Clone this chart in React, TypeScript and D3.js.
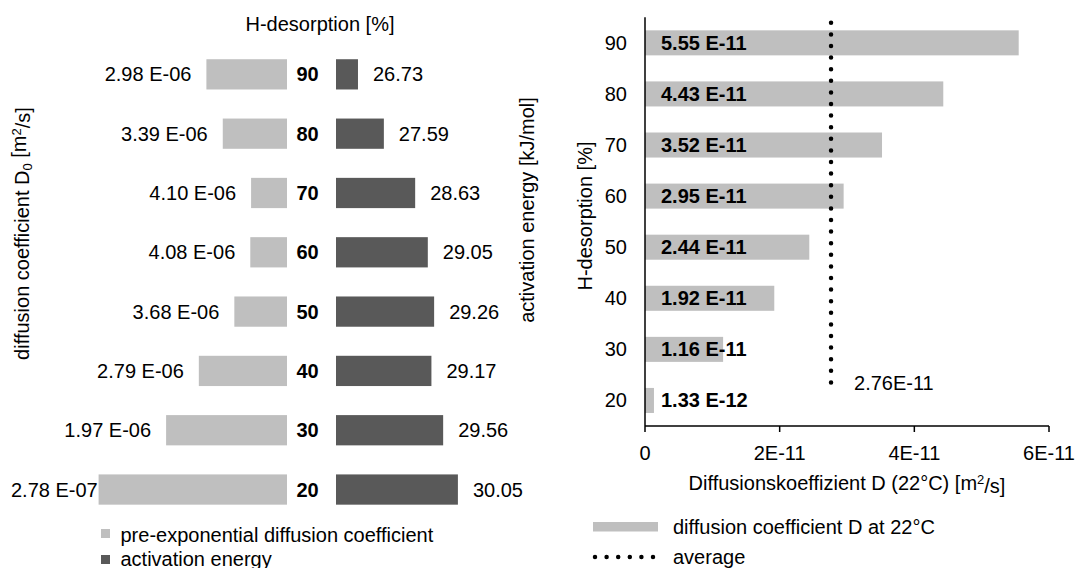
import React from "react";
import * as d3 from "d3";

const categories = ["90", "80", "70", "60", "50", "40", "30", "20"];
const preExpD0 = [2.98e-6, 3.39e-6, 4.1e-6, 4.08e-6, 3.68e-6, 2.79e-6, 1.97e-6, 2.78e-7];
const activationEnergy = [26.73, 27.59, 28.63, 29.05, 29.26, 29.17, 29.56, 30.05];
const diffusionD22 = [5.55e-11, 4.43e-11, 3.52e-11, 2.95e-11, 2.44e-11, 1.92e-11, 1.16e-11, 1.33e-12];
const xTicksRight = [0, 2e-11, 4e-11, 6e-11];

const FONT = "'Liberation Sans', Arial, sans-serif";
const FS = 20;
const LIGHT = "#BFBFBF";
const DARK = "#595959";

function fmtExp(v: number, space = true) {
  const [m, e] = v.toExponential(2).split("e");
  const n = parseInt(e, 10);
  const es = (n < 0 ? "-" : "+") + String(Math.abs(n)).padStart(2, "0");
  return m + (space ? " " : "") + "E" + (n < 0 ? es : es.slice(1));
}
function fmtTick(v: number) {
  if (v === 0) return "0";
  const [m, e] = v.toExponential(0).split("e");
  return m + "E" + e;
}

let ctx: CanvasRenderingContext2D | null = null;
function textWidth(s: string, weight = "normal") {
  if (!ctx) ctx = document.createElement("canvas").getContext("2d");
  if (!ctx) return s.length * FS * 0.5;
  ctx.font = `${weight} ${FS}px 'Liberation Sans', Arial, sans-serif`;
  return ctx.measureText(s).width;
}

export default function App() {
  // Left chart scales
  const yL = d3.scaleBand<string>().domain(categories).range([44.7, 519.2]).paddingInner(0.49).paddingOuter(0.245);
  const xD0 = d3.scaleLinear().domain([0, 5e-6]).range([87.5, 287]);
  const xE = d3.scaleLinear().domain([26, 31]).range([336, 486.5]);

  // Right chart scales
  const yR = d3.scaleBand<string>().domain(categories).range([17.3, 426]).paddingInner(0.51).paddingOuter(0.255);
  const xR = d3.scaleLinear().domain([0, 6e-11]).range([645, 1049]);
  const avg = d3.mean(diffusionD22) as number;

  const bwL = yL.bandwidth();
  const bwR = yR.bandwidth();
  const avgTop = (yR(categories[0]) as number) - bwR * 0.3;
  const avgBot = (yR(categories[categories.length - 1]) as number) - bwR * 0.18;

  return (
    <svg width={1078} height={568} style={{ position: "absolute", left: 0, top: 0, background: "#fff" }} fontFamily={FONT} fontSize={FS}>
      <rect width={1078} height={568} fill="#fff" />
      {/* ---------- LEFT CHART ---------- */}
      <text x={320} y={24} dy="0.35em" textAnchor="middle">H-desorption [%]</text>
      {categories.map((c, i) => {
        const y = yL(c) as number;
        const cy = y + bwL / 2;
        const v = preExpD0[i];
        const x0 = xD0(v);
        const lbl = fmtExp(v);
        const w = textWidth(lbl);
        const endX = Math.max(x0 - 15, 11 + w);
        const e = activationEnergy[i];
        return (
          <g key={c}>
            <rect x={x0} y={y} width={xD0(5e-6) - x0} height={bwL} fill={LIGHT} />
            <rect x={xE(26)} y={y} width={xE(e) - xE(26)} height={bwL} fill={DARK} />
            <text x={endX} y={cy} dy="0.35em" textAnchor="end">{lbl}</text>
            <text x={307.5} y={cy} dy="0.35em" textAnchor="middle" fontWeight="bold">{c}</text>
            <text x={xE(e) + 15} y={cy} dy="0.35em">{e.toFixed(2)}</text>
          </g>
        );
      })}
      <text transform="translate(21.5,233.5) rotate(-90)" dy="0.35em" textAnchor="middle">
        diffusion coefficient D<tspan fontSize={13} dy="0.3em">0</tspan><tspan dy="-0.3em"> [m</tspan><tspan fontSize={13} dy="-0.45em">2</tspan><tspan dy="0.45em">/s]</tspan>
      </text>
      <text transform="translate(527,210) rotate(-90)" dy="0.35em" textAnchor="middle">activation energy [kJ/mol]</text>
      {/* left legend */}
      <rect x={101} y={529} width={9} height={9} fill={LIGHT} />
      <text x={120.5} y={534.5} dy="0.35em">pre-exponential diffusion coefficient</text>
      <rect x={101} y={555} width={9} height={9} fill={DARK} />
      <text x={120.5} y={558.5} dy="0.35em">activation energy</text>

      {/* ---------- RIGHT CHART ---------- */}
      {categories.map((c, i) => {
        const y = yR(c) as number;
        const cy = y + bwR / 2;
        const v = diffusionD22[i];
        return (
          <g key={c}>
            <rect x={xR(0)} y={y} width={xR(v) - xR(0)} height={bwR} fill={LIGHT} />
            <text x={xR(0) + 16} y={cy} dy="0.35em" fontWeight="bold">{fmtExp(v)}</text>
            <text x={627} y={cy} dy="0.35em" textAnchor="end">{c}</text>
          </g>
        );
      })}
      <line x1={xR(0)} x2={xR(0)} y1={17.3} y2={426} stroke="#000" strokeWidth={1.5} />
      <line x1={xR(0)} x2={xR(6e-11)} y1={426} y2={426} stroke="#000" strokeWidth={1.5} />
      {xTicksRight.map((t) => (
        <g key={t}>
          <line x1={xR(t)} x2={xR(t)} y1={426} y2={432} stroke="#000" strokeWidth={1.5} />
          <text x={xR(t)} y={453} dy="0.35em" textAnchor="middle">{fmtTick(t)}</text>
        </g>
      ))}
      <line x1={xR(avg)} x2={xR(avg)} y1={avgTop} y2={avgBot} stroke="#000" strokeWidth={4.5} strokeLinecap="round" strokeDasharray="0 11.6" />
      <text x={xR(avg) + 23} y={avgBot} dy="0.35em">{fmtExp(avg, false)}</text>
      <text x={847} y={483} dy="0.35em" textAnchor="middle">
        Diffusionskoeffizient D (22°C) [m<tspan fontSize={13} dy="-0.45em">2</tspan><tspan dy="0.45em">/s]</tspan>
      </text>
      <text transform="translate(585,216) rotate(-90)" dy="0.35em" textAnchor="middle">H-desorption [%]</text>
      {/* right legend */}
      <rect x={593} y={522} width={65} height={9.5} fill={LIGHT} />
      <text x={673} y={527} dy="0.35em">diffusion coefficient D at 22°C</text>
      <line x1={595} x2={657} y1={557} y2={557} stroke="#000" strokeWidth={4.5} strokeLinecap="round" strokeDasharray="0 11.6" />
      <text x={673} y={557} dy="0.35em">average</text>
    </svg>
  );
}
